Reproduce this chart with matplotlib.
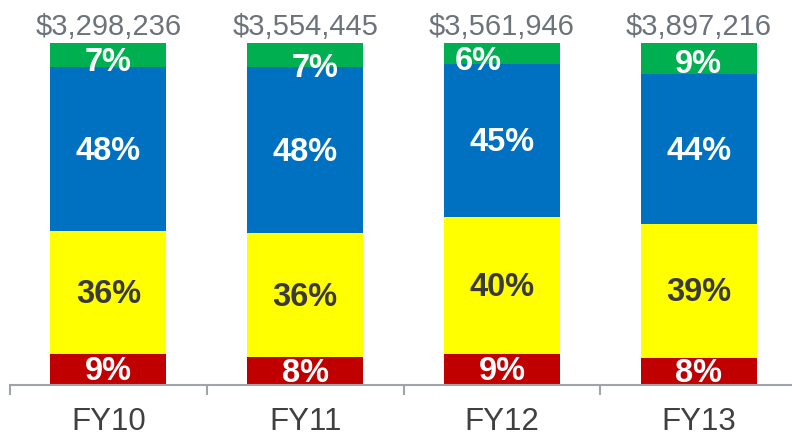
import matplotlib
matplotlib.use("Agg")
import matplotlib.pyplot as plt
import numpy as np

categories = ["FY10", "FY11", "FY12", "FY13"]
totals = ["$3,298,236", "$3,554,445", "$3,561,946", "$3,897,216"]
red = [9, 8, 9, 8]
yellow = [36, 36, 40, 39]
blue = [48, 48, 45, 44]
green = [7, 7, 6, 9]

series = [red, yellow, blue, green]
colors = ["#C00000", "#FFFF00", "#0070C0", "#00B050"]
text_colors = ["white", "#3A3A3A", "white", "white"]
# small label nudges (pixels) for green labels, as in the original slide
green_dx = [0, 10, -24, 0]
green_dy = [-8, -13, -8, -6]

plt.rcParams['font.family'] = ['Liberation Sans', 'DejaVu Sans']
fig = plt.figure(figsize=(7.92, 4.38), dpi=100)
ax = fig.add_axes([10/792, (438-385)/438, 787/792, (385-43)/438])

x = np.arange(len(categories))
arr = np.array(series, dtype=float)
sums = arr.sum(axis=0)
frac = arr / sums
bottom = np.zeros(len(categories))
for i, (vals, c) in enumerate(zip(frac, colors)):
    ax.bar(x, vals, bottom=bottom, width=0.59, color=c, edgecolor='none', zorder=2)
    for j in range(len(categories)):
        cy = bottom[j] + vals[j] / 2
        dx, dy = (green_dx[j], green_dy[j]) if i == 3 else (0, -2)
        ax.annotate(f"{series[i][j]}%", (x[j], cy), xytext=(dx * 0.72, dy * 0.72),
                    textcoords='offset points', ha='center', va='center',
                    fontsize=23.5, fontweight='bold', color=text_colors[i], zorder=3)
    bottom += vals

for j in range(len(categories)):
    ax.annotate(totals[j], (x[j], 1.0), xytext=(0, 6), textcoords='offset points',
                ha='center', va='baseline', fontsize=21, color='#6D737A',
                annotation_clip=False)

ax.set_xlim(-0.5, len(categories) - 0.5)
ax.set_ylim(0, 1)
ax.set_yticks([])
for s in ['top', 'right', 'left']:
    ax.spines[s].set_visible(False)
ax.spines['bottom'].set_color('#A0A4A8')
ax.spines['bottom'].set_linewidth(1.5)
ax.set_xticks(x)
ax.set_xticklabels(categories, fontsize=22.5, color='#404040')
ax.tick_params(axis='x', which='major', length=0, pad=16)
ax.set_xticks(np.arange(-0.5, len(categories)), minor=True)
ax.tick_params(axis='x', which='minor', length=7, width=1.5, color='#A0A4A8', direction='out')

fig.savefig("out.png", dpi=100)
